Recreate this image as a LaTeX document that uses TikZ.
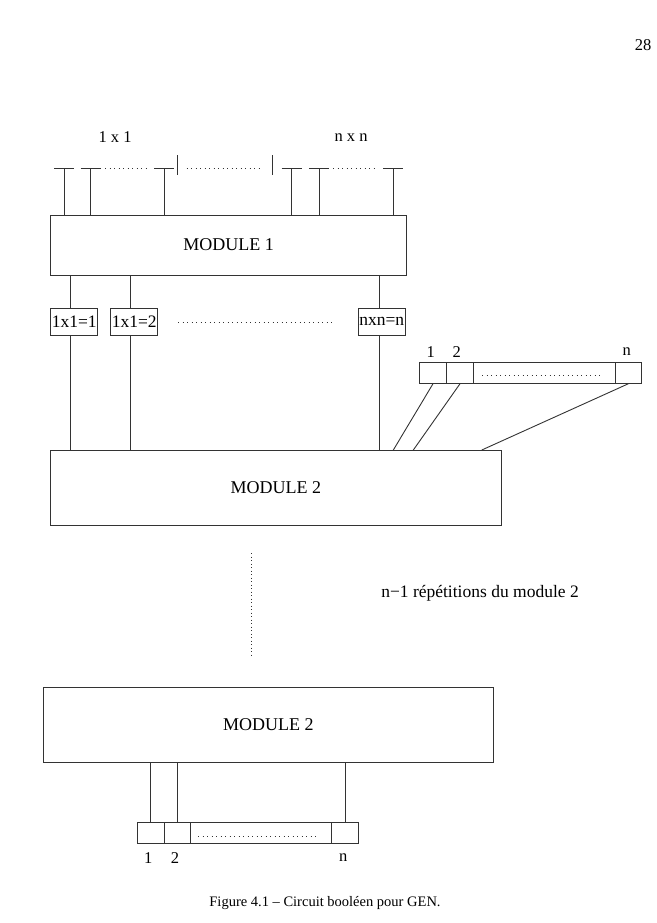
\documentclass[tikz,border=0pt]{standalone}
\usepackage{fontspec}
\setmainfont{Liberation Serif}
\usetikzlibrary{calc}
\begin{document}
\begin{tikzpicture}[x=1pt,y=-1pt,
  ln/.style={draw=black!80,line width=0.9pt},
  modbox/.style={ln,rectangle,inner sep=0pt,font=\fontsize{18}{18}\selectfont},
  smallbox/.style={ln,rectangle,inner sep=0pt,minimum height=26.7pt,font=\fontsize{17.5}{17.5}\selectfont},
  cell/.style={ln,rectangle,inner sep=0pt,minimum height=21pt},
  lab/.style={inner sep=0pt,font=\fontsize{16.5}{16.5}\selectfont},
  dots/.style={draw=black!80,line width=0.9pt,dash pattern=on 1pt off 3.5pt},
  vdots/.style={draw=black!80,line width=0.9pt,dash pattern=on 1pt off 2.5pt},
  tbar/.style={ln}]
\useasboundingbox (0,0) rectangle (656,923);
\node[lab] (page) at (643,45) {28};
\node[lab] (l11) at (115,137) {1 x 1};
\node[lab] (lnn) at (351,137.7) {n x n};
% MODULE 1
\node[modbox,minimum width=356pt,minimum height=60pt] (m1) at (228.7,245) {MODULE 1};
% T terminals
\foreach \i/\x in {1/64,2/90.7,3/164.3,4/291.7,5/319,6/393.3}{
  \coordinate (t\i) at (\x,168.3);
  \draw[tbar] ($(t\i)+(-10,0)$) -- ($(t\i)+(10,0)$);
  \draw[tbar] (t\i) -- (t\i |- m1.north);
}
\coordinate (va) at (177.7,155);
\coordinate (vb) at (272.3,155);
\draw[ln,line width=1.2pt] (va) -- ++(0,20);
\draw[ln,line width=1.2pt] (vb) -- ++(0,20);
\coordinate (d1a) at (105,168.3); \coordinate (d1b) at (146,168.3);
\coordinate (d2a) at (186.7,168.3); \coordinate (d2b) at (259,168.3);
\coordinate (d3a) at (333,168.3); \coordinate (d3b) at (374,168.3);
\draw[dots] (d1a) -- (d1b);
\draw[dots] (d2a) -- (d2b);
\draw[dots] (d3a) -- (d3b);
% small boxes
\node[smallbox,minimum width=47pt] (b1) at (74.2,321.7) {1x1=1};
\node[smallbox,minimum width=47pt] (b2) at (134.2,321.7) {1x1=2};
\node[smallbox,minimum width=47.7pt] (bn) at (381.8,321.7) {nxn=n};
\coordinate (dba) at (178,322.7); \coordinate (dbb) at (333,322.7);
\draw[dots] (dba) -- (dbb);
% MODULE 2 (top)
\node[modbox,minimum width=450.3pt,minimum height=75pt] (m2) at (275.8,488) {MODULE 2};
\coordinate (x1) at (70.7,0);
\coordinate (x2) at (130.7,0);
\coordinate (x3) at (379.3,0);
\draw[ln] (m1.south -| x1) -- (b1.north -| x1);
\draw[ln] (b1.south -| x1) -- (m2.north -| x1);
\draw[ln] (m1.south -| x2) -- (b2.north -| x2);
\draw[ln] (b2.south -| x2) -- (m2.north -| x2);
\draw[ln] (m1.south -| x3) -- (bn.north -| x3);
\draw[ln] (bn.south -| x3) -- (m2.north -| x3);
% register (top)
\node[cell,minimum width=27.4pt] (r1) at (433,372.8) {};
\node[cell,minimum width=26.6pt] (r2) at (460,372.8) {};
\node[cell,minimum width=141.7pt] (rd) at (544.15,372.8) {};
\node[cell,minimum width=26.7pt] (rn) at (628.35,372.8) {};
\coordinate (rda) at (482,375); \coordinate (rdb) at (602,375);
\draw[dots] (rda) -- (rdb);
\node[lab] (n1) at (430.7,351.7) {1};
\node[lab] (n2) at (456.7,351.7) {2};
\node[lab] (nn) at (626.7,351.7) {n};
\coordinate (e1) at (393.3,0);
\coordinate (e2) at (413.3,0);
\coordinate (e3) at (481.7,0);
\draw[ln] (r1.south) -- (m2.north -| e1);
\draw[ln] (r2.south) -- (m2.north -| e2);
\draw[ln] (rn.south) -- (m2.north -| e3);
% repetition
\coordinate (va1) at (251.7,553);
\coordinate (va2) at (251.7,657);
\draw[vdots] (va1) -- (va2);
\node[lab,font=\fontsize{17.5}{17.5}\selectfont] (rep) at (480,593) {n−1 répétitions du module 2};
% MODULE 2 (bottom)
\node[modbox,minimum width=450pt,minimum height=74.6pt] (m3) at (268.3,725) {MODULE 2};
\node[cell,minimum width=26.7pt,minimum height=20.6pt] (s1) at (150.65,833) {};
\node[cell,minimum width=26.7pt,minimum height=20.6pt] (s2) at (177.35,833) {};
\node[cell,minimum width=141pt,minimum height=20.6pt] (sd) at (261.2,833) {};
\node[cell,minimum width=26.6pt,minimum height=20.6pt] (sn) at (345,833) {};
\coordinate (sda) at (198,836); \coordinate (sdb) at (318,836);
\draw[dots] (sda) -- (sdb);
\draw[ln] (s1.north) -- (s1.north |- m3.south);
\draw[ln] (s2.north) -- (s2.north |- m3.south);
\draw[ln] (sn.north) -- (sn.north |- m3.south);
\node[lab] (o1) at (148.3,858) {1};
\node[lab] (o2) at (175,858) {2};
\node[lab] (on) at (343.3,858) {n};
% caption
\node[lab,font=\fontsize{14.5}{14.5}\selectfont] (cap) at (325,903) {Figure 4.1 – Circuit booléen pour GEN.};
\end{tikzpicture}
\end{document}
